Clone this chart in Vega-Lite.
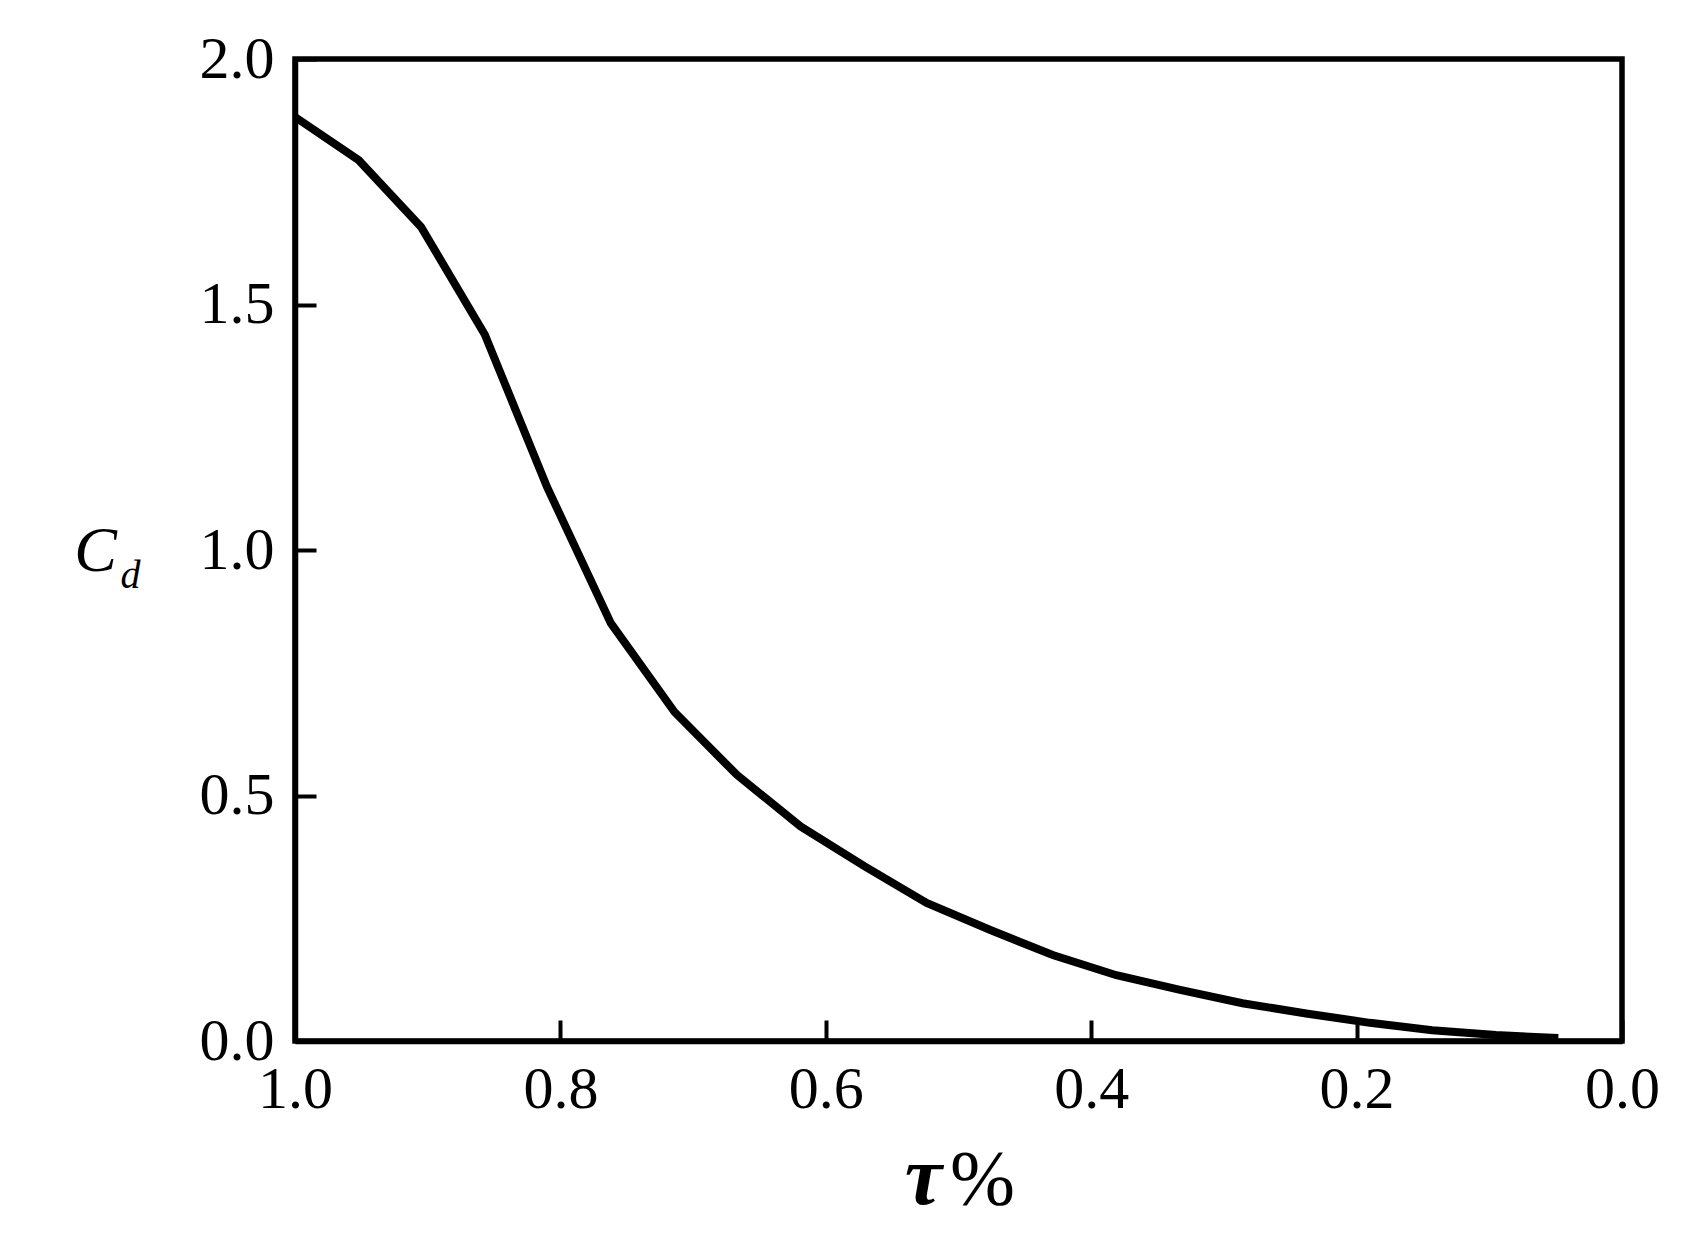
{
  "$schema": "https://vega.github.io/schema/vega-lite/v6.json",
  "width": 1327,
  "height": 982,
  "autosize": "none",
  "padding": {"left": 295, "top": 59, "right": 76, "bottom": 200},
  "background": "white",
  "config": {
    "font": "Liberation Serif",
    "view": {"stroke": "black", "strokeWidth": 5.5},
    "axis": {"grid": false}
  },
  "data": {
    "values": [
      {"tau": 1.000, "cd": 1.882},
      {"tau": 0.952, "cd": 1.794},
      {"tau": 0.905, "cd": 1.658},
      {"tau": 0.857, "cd": 1.439},
      {"tau": 0.810, "cd": 1.128},
      {"tau": 0.762, "cd": 0.851},
      {"tau": 0.714, "cd": 0.670},
      {"tau": 0.667, "cd": 0.542},
      {"tau": 0.619, "cd": 0.437},
      {"tau": 0.571, "cd": 0.356},
      {"tau": 0.524, "cd": 0.281},
      {"tau": 0.476, "cd": 0.226},
      {"tau": 0.429, "cd": 0.175},
      {"tau": 0.381, "cd": 0.134},
      {"tau": 0.333, "cd": 0.104},
      {"tau": 0.286, "cd": 0.077},
      {"tau": 0.238, "cd": 0.056},
      {"tau": 0.190, "cd": 0.037},
      {"tau": 0.143, "cd": 0.022},
      {"tau": 0.095, "cd": 0.012},
      {"tau": 0.048, "cd": 0.006}
    ]
  },
  "resolve": {"axis": {"x": "independent", "y": "independent"}},
  "layer": [
    {
      "mark": {"type": "line", "color": "black", "strokeWidth": 8, "strokeJoin": "miter", "clip": true},
      "encoding": {
        "x": {
          "field": "tau", "type": "quantitative",
          "scale": {"domain": [0, 1], "reverse": true, "nice": false, "zero": false},
          "axis": {
            "orient": "bottom",
            "values": [0, 0.2, 0.4, 0.6, 0.8, 1.0],
            "format": ".1f",
            "domainColor": "black", "domainWidth": 5.5,
            "tickColor": "black", "tickWidth": 4, "tickSize": -21,
            "labelFont": "Liberation Serif", "labelFontSize": 60, "labelColor": "black",
            "labelPadding": 40, "labelFlush": false, "labelOverlap": false,
            "title": "τ",
            "titleFont": "Liberation Serif", "titleFontSize": 84, "titleFontStyle": "italic", "titleFontWeight": "bold",
            "titleColor": "black",
            "titleX": 628, "titleY": 162, "titleAlign": "center", "titleBaseline": "alphabetic", "titleAnchor": null
          }
        },
        "y": {
          "field": "cd", "type": "quantitative",
          "scale": {"domain": [0, 2], "nice": false},
          "axis": {
            "orient": "left",
            "values": [0, 0.5, 1.0, 1.5, 2.0],
            "format": ".1f",
            "domainColor": "black", "domainWidth": 5.5,
            "tickColor": "black", "tickWidth": 4, "tickSize": -21,
            "labelFont": "Liberation Serif", "labelFontSize": 60, "labelColor": "black",
            "labelPadding": 42, "labelFlush": false, "labelOverlap": false,
            "title": "C",
            "titleFont": "Liberation Serif", "titleFontSize": 64, "titleFontStyle": "italic", "titleFontWeight": "normal",
            "titleColor": "black", "titleAngle": 0,
            "titleX": -200, "titleY": 511, "titleAlign": "center", "titleBaseline": "alphabetic"
          }
        }
      }
    },
    {
      "mark": {"type": "line", "color": "black", "strokeWidth": 8, "opacity": 0},
      "encoding": {
        "x": {
          "field": "tau", "type": "quantitative",
          "scale": {"domain": [0, 1], "reverse": true, "nice": false, "zero": false},
          "axis": {
            "orient": "bottom",
            "domain": false, "ticks": false, "labels": false, "grid": false,
            "title": "%",
            "titleFont": "Liberation Serif", "titleFontSize": 78, "titleFontStyle": "normal", "titleFontWeight": "normal",
            "titleColor": "black",
            "titleX": 687, "titleY": 162, "titleAlign": "center", "titleBaseline": "alphabetic"
          }
        },
        "y": {
          "field": "cd", "type": "quantitative",
          "scale": {"domain": [0, 2], "nice": false},
          "axis": {
            "orient": "left",
            "domain": false, "ticks": false, "labels": false, "grid": false,
            "title": "d",
            "titleFont": "Liberation Serif", "titleFontSize": 40, "titleFontStyle": "italic", "titleFontWeight": "normal",
            "titleColor": "black", "titleAngle": 0,
            "titleX": -165, "titleY": 528, "titleAlign": "center", "titleBaseline": "alphabetic"
          }
        }
      }
    }
  ]
}
